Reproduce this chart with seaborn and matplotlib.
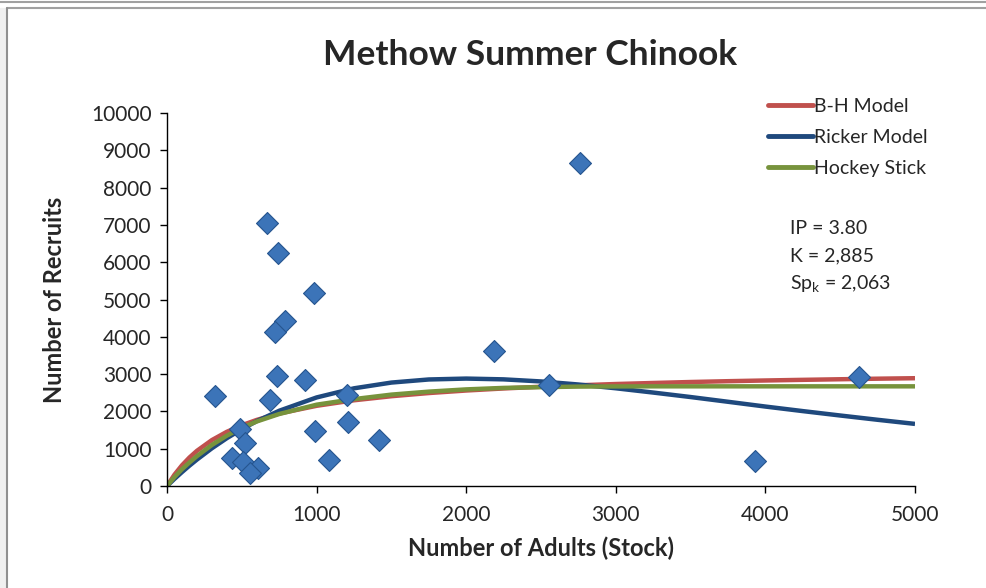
import numpy as np
import pandas as pd
import matplotlib
matplotlib.use("Agg")
import matplotlib.pyplot as plt
import seaborn as sns
from matplotlib.lines import Line2D

# observerede punkter (gydebestand vs rekrutter)
stock = [321, 488, 521, 432, 510, 610, 555, 670, 744, 985, 789, 722, 737, 922,
         688, 1201, 989, 1212, 1085, 1417, 2186, 2553, 2761, 3930, 4626]
recruits = [2413, 1520, 1144, 742, 652, 491, 350, 7043, 6238, 5166, 4432, 4137,
            2957, 2842, 2306, 2440, 1483, 1707, 697, 1233, 3619, 2708, 8660, 670, 2922]

# modelkurver
curve_x = [0, 50, 100, 150, 200, 300, 400, 500, 600, 750, 1000, 1250, 1500, 1750, 2000,
           2250, 2500, 2750, 3000, 3250, 3500, 3750, 4000, 4250, 4500, 4750, 5000]
bh_y = [0, 304, 554, 764, 943, 1231, 1453, 1629, 1772, 1943, 2150, 2298, 2407, 2492, 2560,
        2615, 2661, 2700, 2734, 2762, 2788, 2810, 2829, 2846, 2862, 2877, 2890]
ricker_y = [0, 191, 372, 545, 708, 1011, 1282, 1524, 1740, 2017, 2374, 2619, 2773, 2856, 2880,
            2859, 2803, 2721, 2620, 2505, 2385, 2258, 2130, 2008, 1890, 1775, 1665]
hockey_y = [0, 240, 450, 630, 800, 1100, 1350, 1560, 1730, 1930, 2180, 2330, 2450, 2530, 2590,
            2630, 2650, 2665, 2670, 2672, 2672, 2672, 2672, 2672, 2672, 2672, 2672]

model_labels = ["B-H Model", "Ricker Model", "Hockey Stick"]
model_colors = ["#C0504D", "#1F497D", "#77933C"]

x_ticks = [0, 1000, 2000, 3000, 4000, 5000]
y_ticks = list(range(0, 10001, 1000))

sns.set_style("white")
plt.rcParams["font.family"] = ["Lato", "DejaVu Sans"]

fig = plt.figure(figsize=(9.87, 5.88), dpi=100)
ax = fig.add_axes([167 / 987, 102 / 588, 748 / 987, 373 / 588])

curves = pd.DataFrame({"x": curve_x, "B-H Model": bh_y,
                       "Ricker Model": ricker_y, "Hockey Stick": hockey_y})
curves = curves.melt(id_vars="x", var_name="model", value_name="y")

for label, color in zip(model_labels, model_colors):
    d = curves[curves["model"] == label]
    ax.plot(d["x"], d["y"], color=color, linewidth=3.2, solid_capstyle="butt",
            solid_joinstyle="round", zorder=2)

pts = pd.DataFrame({"stock": stock, "recruits": recruits})
sns.scatterplot(data=pts, x="stock", y="recruits", ax=ax, marker="D", s=125,
                color="#3C74B8", edgecolor="#26558F", linewidth=0.8, zorder=3)

ax.set_xlim(0, 5000)
ax.set_ylim(0, 10000)
ax.set_xticks(x_ticks)
ax.set_yticks(y_ticks)
ax.set_xticklabels([str(v) for v in x_ticks])
ax.set_yticklabels([str(v) for v in y_ticks])
ax.tick_params(axis="both", labelsize=15, length=5, width=1, direction="out",
               color="black", pad=6)
ax.tick_params(axis="x", pad=9)
ax.tick_params(left=True, bottom=True)
for side in ["top", "right"]:
    ax.spines[side].set_visible(False)
for side in ["left", "bottom"]:
    ax.spines[side].set_color("black")
    ax.spines[side].set_linewidth(1)

ax.set_xlabel("Number of Adults (Stock)", fontsize=17, fontweight="bold", labelpad=8)
ax.set_ylabel("Number of Recruits", fontsize=17, fontweight="bold", labelpad=18)
fig.text(530 / 987, 1 - 55 / 588, "Methow Summer Chinook", ha="center", va="center",
         fontsize=25.5, fontweight="bold")

handles = [Line2D([0], [0], color=c, linewidth=3.5) for c in model_colors]
leg = ax.legend(handles, model_labels, loc="upper left", bbox_to_anchor=(760 / 987, 1 - 90 / 588),
                bbox_transform=fig.transFigure, frameon=False, fontsize=14,
                handlelength=2.3, handletextpad=0.1, labelspacing=0.72, borderaxespad=0)

fig.text(790 / 987, 1 - 228 / 588, "IP = 3.80", fontsize=14, va="center")
fig.text(790 / 987, 1 - 256 / 588, "K = 2,885", fontsize=14, va="center")
fig.text(790 / 987, 1 - 284 / 588, r"Sp$_\mathregular{k}$ = 2,063", fontsize=14, va="center")

# kantlinjer fra regnearket
fig.add_artist(Line2D([0, 1], [1 - 2 / 588, 1 - 2 / 588], color="#A0A0A0", linewidth=1.5))
fig.add_artist(Line2D([7 / 987, 1], [1 - 8 / 588, 1 - 8 / 588], color="#A0A0A0", linewidth=1.5))
fig.add_artist(Line2D([7 / 987, 7 / 987], [0, 1 - 8 / 588], color="#909090", linewidth=1.5))
fig.patches.append(plt.Rectangle((0, 0), 6 / 987, 1 - 8 / 588, transform=fig.transFigure,
                                 color="#F0F0F0", zorder=0))

fig.savefig("out.png", dpi=100)
